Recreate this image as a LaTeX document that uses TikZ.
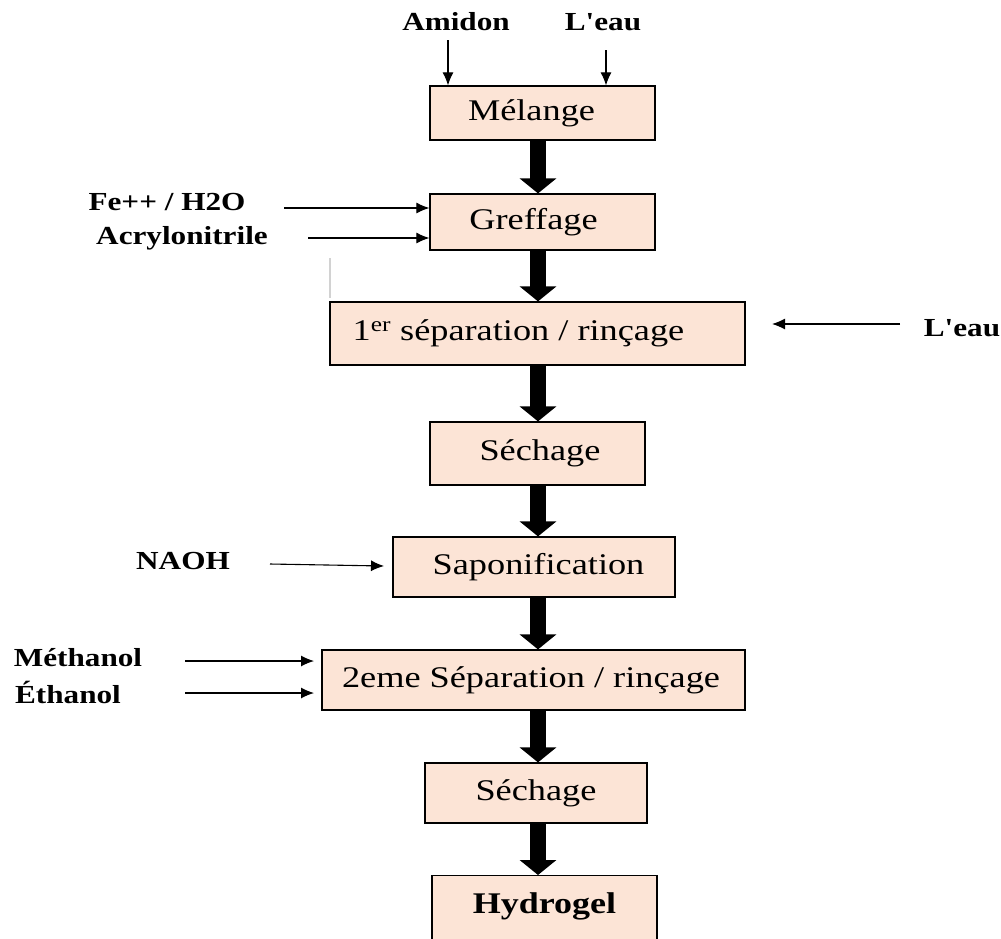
\documentclass[tikz,border=0pt]{standalone}
\usepackage{fontspec}
\setmainfont{Liberation Serif}
\newfontfamily\boxfont[FakeStretch=1.21]{Liberation Serif}
\newfontfamily\labfont[FakeStretch=1.2,Ligatures=TeXOff]{Liberation Serif}
\usetikzlibrary{arrows.meta}
\definecolor{peach}{HTML}{FCE4D6}
\tikzset{
 proc/.style={draw=black, line width=1.2pt, fill=peach, inner sep=0pt,
   font=\boxfont\fontsize{30}{34}\selectfont},
 lab/.style={font=\labfont\bfseries\fontsize{26}{30}\selectfont, inner sep=0pt},
 feed/.style={line width=1.1pt, -{Latex[length=13pt,width=11pt]}},
 flow/.style={line width=16pt, -{Triangle[length=15pt,width=36pt]}},
}
\begin{document}
\begin{tikzpicture}[x=1pt,y=-1pt]
\clip (0,0) rectangle (1001,938);
\fill[white] (0,0) rectangle (1001,938);
% process boxes
\node[proc, minimum width=225pt, minimum height=54pt] (m1) at (542.5,113) {\hspace*{-22pt}Mélange};
\node[proc, minimum width=225pt, minimum height=56pt] (m2) at (542.5,222) {\hspace*{-18pt}Greffage};
\node[proc, minimum width=415pt, minimum height=63pt] (m3) at (537.5,333.5) {\hspace*{-38pt}1\textsuperscript{er} séparation / rinçage};
\node[proc, minimum width=215pt, minimum height=63pt] (m4) at (537.5,453.5) {\hspace*{5pt}Séchage};
\node[proc, minimum width=282pt, minimum height=60pt] (m5) at (534,567) {\hspace*{9pt}Saponification};
\node[proc, minimum width=423pt, minimum height=60pt] (m6) at (533.5,680) {\hspace*{-5pt}2eme Séparation / rinçage};
\node[proc, minimum width=222pt, minimum height=60pt] (m7) at (536,793) {Séchage};
\node[proc, font=\labfont\bfseries\fontsize{30}{34}\selectfont, minimum width=225pt,
  anchor=north, text height=38pt, text depth=40pt] (m8) at (544.5,875) {Hydrogel};
% main flow arrows
\coordinate (ax) at (538,0);
\draw[flow] (m1.south -| ax) -- (m2.north -| ax);
\draw[flow] (m2.south -| ax) -- (m3.north -| ax);
\draw[flow] (m3.south -| ax) -- (m4.north -| ax);
\draw[flow] (m4.south -| ax) -- (m5.north -| ax);
\draw[flow] (m5.south -| ax) -- (m6.north -| ax);
\draw[flow] (m6.south -| ax) -- (m7.north -| ax);
\draw[flow] (m7.south -| ax) -- (m8.north -| ax);
% labels
\node[lab] (lA) at (456,22) {Amidon};
\node[lab] (lB) at (603,22) {L'eau};
\node[lab] (lC) at (167,202) {Fe++ / H2O};
\node[lab] (lD) at (182,238) {Acrylonitrile};
\node[lab] (lE) at (962,328) {L'eau};
\node[lab] (lF) at (183,561) {NAOH};
\node[lab] (lG) at (78,658) {Méthanol};
\node[lab] (lH) at (68,692) {Éthanol};
% feed arrows
\coordinate (fA) at (448,40);
\coordinate (fB) at (606,50);
\coordinate (fC) at (284,208);
\coordinate (fD) at (308,238);
\coordinate (fE) at (900,324);
\coordinate (eE) at (772,324);
\coordinate (fF) at (270,564);
\coordinate (eF) at (384,566);
\coordinate (fG) at (185,661);
\coordinate (eG) at (314,661);
\coordinate (fH) at (185,693);
\coordinate (eH) at (314,693);
\draw[feed] (fA) -- (fA |- m1.north);
\draw[feed] (fB) -- (fB |- m1.north);
\draw[feed] (fC) -- (fC -| m2.west);
\draw[feed] (fD) -- (fD -| m2.west);
\draw[feed] (fE) -- (eE);
\draw[feed] (fF) -- (eF);
\draw[feed] (fG) -- (eG);
\draw[feed] (fH) -- (eH);
% faint mark
\draw[gray!35, line width=2.5pt] (330,258) -- (330,298);
\end{tikzpicture}
\end{document}
